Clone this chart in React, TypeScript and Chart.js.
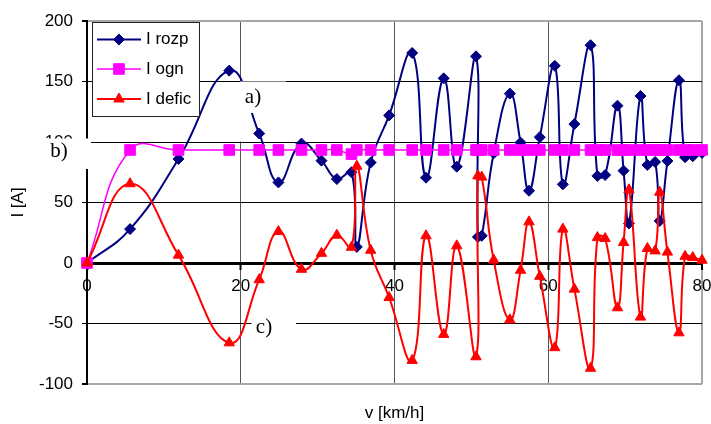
import React, { useEffect, useRef } from 'react';
import { Chart, registerables } from 'chart.js';

Chart.register(...registerables);

// speed v [km/h] (shared x values of all three series)
const speedKmh = [
  0, 5.6, 11.9, 18.5, 22.4, 24.9, 27.9, 30.5, 32.5, 34.4, 35.1, 36.9, 39.3,
  42.3, 44.1, 46.4, 48.1, 50.6, 50.85, 51.35, 52.9, 55.0, 56.4, 57.5, 58.9,
  60.85, 61.9, 63.4, 65.5, 66.4, 67.4, 69.0, 69.8, 70.5, 72.0, 72.9, 73.9,
  74.5, 75.5, 77.0, 77.8, 78.8, 80.0,
];

const iRozp = [
  0, 28, 86, 159, 107, 66.6, 98.7, 84.6, 69.4, 75, 13.3, 83, 122,
  173.6, 70.5, 152.6, 79.6, 170.8, 21.5, 22.5, 90.7, 140, 99.5, 59.7, 104,
  163, 65, 114.8, 180, 72, 72.7, 130, 76.3, 32.7, 138, 81, 83.5,
  34.8, 84.3, 151, 87.4, 88.2, 91,
];

const iOgn = [
  0, 93.4, 93.4, 93.4, 93.4, 93.4, 93.4, 93.4, 93.4, 90, 93.4, 93.4, 93.4,
  93.4, 93.4, 93.4, 93.4, 93.4, 93.4, 93.4, 93.4, 93.4, 93.4, 93.4, 93.4,
  93.4, 93.4, 93.4, 93.4, 93.4, 93.4, 93.4, 93.4, 93.4, 93.4, 93.4, 93.4,
  93.4, 93.4, 93.4, 93.4, 93.4, 93.4,
];

const iDefic = [
  0, 65.5, 6.5, -66, -13.8, 26, -5.2, 8, 23, 13, 80, 10.5, -28.5,
  -80.5, 22.5, -59, 14.2, -77.5, 72, 71, 2.5, -47, -6, 34, -11,
  -70, 28, -21.6, -87, 21, 20.2, -37, 17, 60.5, -44.7, 12, 10,
  58.5, 9, -57.7, 5.5, 4.5, 2.3,
];

const xTickValues = [0, 20, 40, 60, 80];
const yTickValues = [-100, -50, 0, 50, 100, 150, 200];

const seriesLabels = ['I rozp', 'I ogn', 'I defic'];
const xTitle = 'v [km/h]';
const yTitle = 'I [A]';
const noteLabels = ['a)', 'b)', 'c)'];

const FONT = '"Liberation Sans", Arial, sans-serif';
const SERIF = '"Liberation Serif", "Times New Roman", serif';

function drawMarker(ctx: CanvasRenderingContext2D, style: string, x: number, y: number, r: number, color: string) {
  ctx.save();
  ctx.fillStyle = color;
  ctx.strokeStyle = color;
  ctx.lineWidth = 1;
  ctx.beginPath();
  if (style === 'rectRot') {
    ctx.moveTo(x - r, y);
    ctx.lineTo(x, y - r);
    ctx.lineTo(x + r, y);
    ctx.lineTo(x, y + r);
    ctx.closePath();
  } else if (style === 'rect') {
    const s = r * Math.SQRT1_2;
    ctx.rect(x - s, y - s, 2 * s, 2 * s);
  } else {
    const a = -Math.PI / 2;
    for (let k = 0; k < 3; k++) {
      const ang = a + (k * 2 * Math.PI) / 3;
      const px = x + Math.cos(ang) * r;
      const py = y + Math.sin(ang) * r;
      if (k === 0) ctx.moveTo(px, py);
      else ctx.lineTo(px, py);
    }
    ctx.closePath();
  }
  ctx.fill();
  ctx.stroke();
  ctx.restore();
}

const overlayPlugin = {
  id: 'overlay',
  afterDraw(chart: any) {
    const ctx: CanvasRenderingContext2D = chart.ctx;
    ctx.save();
    // white label boxes
    ctx.fillStyle = '#fff';
    ctx.fillRect(240, 81.5, 46, 31.5);
    ctx.fillRect(238, 113, 5, 28.5);
    ctx.fillRect(30, 138.5, 61, 30.5);
    ctx.fillRect(251.5, 313, 44.5, 29);

    ctx.fillStyle = '#000';
    ctx.font = `21px ${SERIF}`;
    ctx.textAlign = 'center';
    ctx.textBaseline = 'middle';
    ctx.fillText(noteLabels[0], 253, 97);
    ctx.fillText(noteLabels[1], 59, 151.5);
    ctx.fillText(noteLabels[2], 264, 327);

    // x axis title
    ctx.font = `17px ${FONT}`;
    ctx.textBaseline = 'alphabetic';
    const area = chart.chartArea;
    ctx.fillText(xTitle, (area.left + area.right) / 2, 418);

    // legend
    ctx.fillStyle = '#fff';
    ctx.strokeStyle = '#222';
    ctx.lineWidth = 1;
    ctx.fillRect(92.5, 22.5, 107, 94);
    ctx.strokeRect(92.5, 22.5, 107, 94);
    const rows = [39.5, 69, 99];
    chart.data.datasets.forEach((ds: any, i: number) => {
      const y = rows[i];
      ctx.strokeStyle = ds.borderColor;
      ctx.lineWidth = ds.borderWidth;
      ctx.beginPath();
      ctx.moveTo(97, y);
      ctx.lineTo(141, y);
      ctx.stroke();
      drawMarker(ctx, ds.pointStyle, 119, y, ds.pointRadius, ds.backgroundColor);
      ctx.fillStyle = '#000';
      ctx.font = `17px ${FONT}`;
      ctx.textAlign = 'left';
      ctx.textBaseline = 'middle';
      ctx.fillText(ds.label, 146, y);
    });
    ctx.restore();
  },
};

const toPoints = (ys: number[]) => speedKmh.map((x, i) => ({ x, y: ys[i] }));

export default function App() {
  const ref = useRef<HTMLCanvasElement | null>(null);

  useEffect(() => {
    if (!ref.current) return;
    const tension = 0.45;
    const chart = new Chart(ref.current, {
      type: 'line',
      data: {
        datasets: [
          {
            label: seriesLabels[0],
            data: toPoints(iRozp),
            borderColor: '#000080',
            backgroundColor: '#000080',
            borderWidth: 2,
            pointStyle: 'rectRot',
            pointRadius: 5.5,
            pointBorderWidth: 1,
            pointBorderColor: '#000080',
            tension,
            order: 3,
            clip: false,
          },
          {
            label: seriesLabels[1],
            data: toPoints(iOgn),
            borderColor: '#FF00FF',
            backgroundColor: '#FF00FF',
            borderWidth: 1.5,
            pointStyle: 'rect',
            pointRadius: 7.5,
            pointBorderWidth: 1,
            pointBorderColor: '#FF00FF',
            tension,
            order: 2,
            clip: false,
          },
          {
            label: seriesLabels[2],
            data: toPoints(iDefic),
            borderColor: '#FF0000',
            backgroundColor: '#FF0000',
            borderWidth: 2,
            pointStyle: 'triangle',
            pointRadius: 6,
            pointBorderWidth: 1,
            pointBorderColor: '#FF0000',
            tension,
            order: 1,
            clip: false,
          },
        ] as any,
      },
      options: {
        animation: false,
        responsive: false,
        devicePixelRatio: 1,
        events: [],
        layout: { padding: { top: 21, bottom: 40, left: 0, right: 9 } },
        plugins: { legend: { display: false }, tooltip: { enabled: false } },
        scales: {
          x: {
            type: 'linear',
            position: { y: 0 } as any,
            min: 0,
            max: 80,
            afterBuildTicks: (s: any) => {
              s.ticks = xTickValues.map((v) => ({ value: v }));
            },
            afterFit: (s: any) => {
              s.paddingLeft = 0;
              s.paddingRight = 0;
            },
            grid: {
              color: (c: any) => (c.tick?.value === 80 ? '#a6a6a6' : c.tick?.value === 0 ? '#000' : '#555'),
              lineWidth: (c: any) => (c.tick?.value === 80 ? 2 : 1),
              tickColor: '#000',
              tickLength: 5,
              tickWidth: 2,
            },
            border: { display: true, color: '#000', width: 3 },
            ticks: {
              color: '#000',
              font: { family: FONT, size: 17 },
              padding: 8,
              maxRotation: 0,
              autoSkip: false,
              callback: (v: any) => String(v),
            },
          },
          y: {
            type: 'linear',
            position: 'left',
            min: -100,
            max: 200,
            afterBuildTicks: (s: any) => {
              s.ticks = yTickValues.map((v) => ({ value: v }));
            },
            afterFit: (s: any) => {
              s.width = 87;
            },
            grid: {
              color: (c: any) => (c.tick?.value === 200 || c.tick?.value === -100 ? '#a6a6a6' : '#000'),
              lineWidth: (c: any) => (c.tick?.value === 200 || c.tick?.value === -100 ? 2 : 1),
              tickColor: '#000',
              tickLength: 5,
            },
            border: { display: true, color: '#000', width: 2 },
            ticks: {
              color: '#000',
              font: { family: FONT, size: 17 },
              padding: 9,
              callback: (v: any) => String(v),
            },
            title: {
              display: true,
              text: yTitle,
              color: '#000',
              font: { family: FONT, size: 17 },
              padding: { top: 8, bottom: 0 },
            },
          },
        },
      } as any,
      plugins: [overlayPlugin],
    });
    return () => chart.destroy();
  }, []);

  return (
    <div style={{ position: 'fixed', left: 0, top: 0, width: 711, height: 424, background: '#fff' }}>
      <canvas ref={ref} width={711} height={424} style={{ display: 'block' }} />
    </div>
  );
}
